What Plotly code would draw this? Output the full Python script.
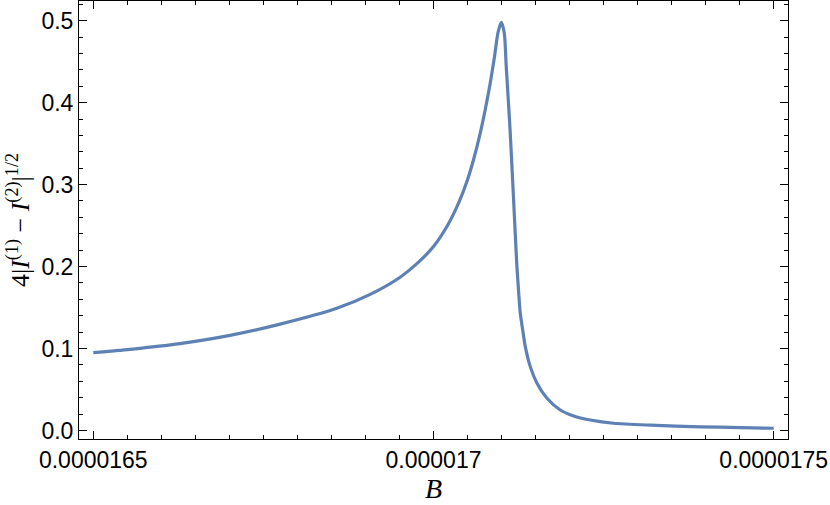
import plotly.graph_objects as go

# Data
B_values = [1.65000e-5, 1.65540e-5, 1.66275e-5, 1.67010e-5, 1.67746e-5, 1.68579e-5,
            1.69069e-5, 1.69510e-5, 1.69756e-5, 1.70000e-5, 1.70197e-5, 1.70368e-5,
            1.70491e-5, 1.70588e-5, 1.70687e-5, 1.70760e-5, 1.70834e-5, 1.70897e-5,
            1.70947e-5, 1.70996e-5, 1.71040e-5, 1.71069e-5, 1.71099e-5, 1.71128e-5,
            1.71153e-5, 1.71177e-5, 1.71201e-5, 1.71226e-5, 1.71256e-5, 1.71275e-5,
            1.71312e-5, 1.71349e-5, 1.71422e-5, 1.71521e-5, 1.71668e-5, 1.71863e-5,
            1.72059e-5, 1.72305e-5, 1.72647e-5, 1.73187e-5, 1.73922e-5, 1.74510e-5,
            1.75000e-5]
I_diff = [0.0950, 0.0990, 0.1060, 0.1160, 0.1297, 0.1490,
          0.1660, 0.1870, 0.2035, 0.2244, 0.2488, 0.2774,
          0.3038, 0.3303, 0.3629, 0.3913, 0.4239, 0.4564,
          0.4850, 0.4980, 0.4850, 0.4440, 0.4035, 0.3629,
          0.3220, 0.2814, 0.2408, 0.2000, 0.1634, 0.1431,
          0.1220, 0.1023, 0.0779, 0.0576, 0.0393, 0.0250,
          0.0177, 0.0128, 0.0088, 0.0065, 0.0045, 0.0035,
          0.0027]

x_tick_vals = [1.65e-5, 1.70e-5, 1.75e-5]
x_tick_text = ["0.0000165", "0.000017", "0.0000175"]
y_tick_vals = [0.0, 0.1, 0.2, 0.3, 0.4, 0.5]
y_tick_text = ["0.0", "0.1", "0.2", "0.3", "0.4", "0.5"]

fig = go.Figure()
fig.add_trace(go.Scatter(
    x=B_values, y=I_diff, mode="lines",
    line=dict(color="#5E81B5", width=3.2, shape="spline", smoothing=0.7),
    showlegend=False, hoverinfo="skip",
))

axis_common = dict(
    showline=True, linecolor="black", linewidth=1, mirror="ticks",
    ticks="inside", tickcolor="black", tickwidth=1,
    showgrid=False, zeroline=False, automargin=False,
    tickfont=dict(family="Liberation Sans, Arial, sans-serif", size=23, color="black"),
)

fig.update_layout(
    width=830, height=505,
    margin=dict(l=79, r=42, t=1, b=66),
    paper_bgcolor="white", plot_bgcolor="white",
    xaxis=dict(
        range=[1.65e-5 - 2.1e-8, 1.75e-5 + 2.1e-8],
        tickmode="array", tickvals=x_tick_vals, ticktext=x_tick_text,
        ticklen=8,
        minor=dict(ticks="inside", dtick=5e-8, tick0=1.65e-5, ticklen=4,
                   tickcolor="black", tickwidth=1, showgrid=False),
        title=dict(text="<i>B</i>", font=dict(family="Liberation Serif, Times New Roman, serif",
                                              size=28, color="black"), standoff=2),
        **axis_common,
    ),
    yaxis=dict(
        range=[-0.0104, 0.524],
        tickmode="array", tickvals=y_tick_vals, ticktext=y_tick_text,
        ticklen=8,
        minor=dict(ticks="inside", dtick=0.02, tick0=0, ticklen=4,
                   tickcolor="black", tickwidth=1, showgrid=False),
        title=dict(text="4|<i>I</i><sup>(1)</sup> − <i>I</i><sup>(2)</sup>|<sup>1/2</sup>",
                   font=dict(family="Liberation Serif, Times New Roman, serif",
                             size=26, color="black"), standoff=4),
        **axis_common,
    ),
)

fig.write_html("out.html", config={"displayModeBar": False},
               post_script="document.body.style.margin='0';document.body.style.padding='0';")
